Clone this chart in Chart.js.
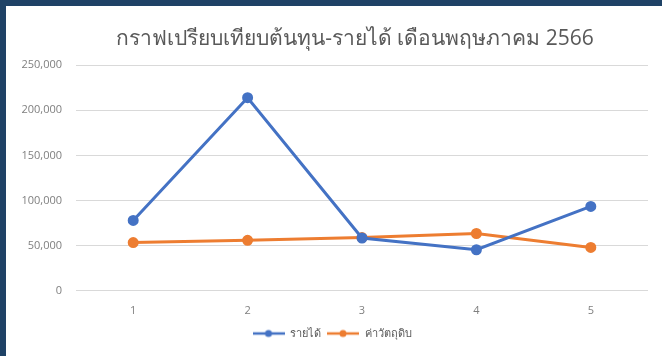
<!DOCTYPE html>
<html>
<head>
<meta charset="utf-8">
<script src="https://cdn.jsdelivr.net/npm/chart.js@4"></script>
<style>
  body { margin: 0; background: #ffffff; }
  #frame {
    position: absolute; left: 0; top: 0;
    width: 662px; height: 356px;
    box-sizing: border-box;
    border-left: 6px solid #1f4266;
    border-top: 6px solid #1f4266;
    background: #ffffff;
  }
  #wrap { position: absolute; left: 6px; top: 6px; width: 656px; height: 350px; }
</style>
</head>
<body>
<div id="frame"></div>
<div id="wrap"><canvas id="myChart"></canvas></div>
<script>
// ข้อมูลกราฟ
const categories = ['1', '2', '3', '4', '5'];
const revenue = [78000, 214000, 58500, 45500, 93500];     // รายได้
const materials = [53500, 56000, 59000, 63500, 48000];    // ค่าวัตถุดิบ
const yTicks = [0, 50000, 100000, 150000, 200000, 250000];

// สัญลักษณ์ legend แบบเส้น + จุด
function legendIcon(color) {
    const c = document.createElement('canvas');
    c.width = 32; c.height = 10;
    const g = c.getContext('2d');
    g.strokeStyle = color;
    g.lineWidth = 2.5;
    g.beginPath(); g.moveTo(0, 5); g.lineTo(32, 5); g.stroke();
    g.fillStyle = color;
    g.beginPath(); g.arc(16, 5, 3.5, 0, Math.PI * 2); g.fill();
    return c;
}

// เลื่อนชื่อกราฟไปทางขวาเล็กน้อย
const titleShift = {
    id: 'titleShift',
    afterLayout: function (chart) {
        if (chart.titleBlock) chart.titleBlock.left += 46;
    }
};

const font = "'Open Sans', 'Noto Sans', sans-serif";

const data = {
    labels: categories,
    datasets: [{
        label: 'รายได้',
        data: revenue,
        borderColor: '#4472C4',
        backgroundColor: '#4472C4',
        borderWidth: 3,
        pointRadius: 4,
        tension: 0
    }, {
        label: 'ค่าวัตถุดิบ',
        data: materials,
        borderColor: '#ED7D31',
        backgroundColor: '#ED7D31',
        borderWidth: 3,
        pointRadius: 4,
        tension: 0
    }]
};

const config = {
    type: 'line',
    data: data,
    plugins: [titleShift],
    options: {
        responsive: true,
        maintainAspectRatio: false,
        animation: false,
        layout: { padding: { left: 10, right: 14, top: 20, bottom: 7 } },
        plugins: {
            title: {
                display: true,
                text: 'กราฟเปรียบเทียบต้นทุน-รายได้ เดือนพฤษภาคม 2566',
                color: '#595959',
                font: { family: font, size: 21, weight: 'normal' },
                padding: { top: 0, bottom: 14 }
            },
            legend: {
                position: 'bottom',
                labels: {
                    color: '#595959',
                    font: { family: font, size: 11 },
                    usePointStyle: true,
                    pointStyleWidth: 32,
                    boxWidth: 32,
                    padding: 6,
                    generateLabels: function (chart) {
                        return chart.data.datasets.map(function (ds, i) {
                            return {
                                text: ds.label,
                                fontColor: '#595959',
                                pointStyle: legendIcon(ds.borderColor),
                                datasetIndex: i,
                                lineWidth: 0,
                                strokeStyle: 'transparent',
                                fillStyle: ds.borderColor
                            };
                        });
                    }
                }
            },
            tooltip: { enabled: false }
        },
        scales: {
            x: {
                offset: true,
                grid: { display: false },
                border: { display: false },
                ticks: { color: '#7f7f7f', font: { family: font, size: 11 }, padding: 5 }
            },
            y: {
                min: 0,
                max: 250000,
                grid: { color: '#d9d9d9', lineWidth: 1, drawTicks: false },
                border: { display: false },
                afterBuildTicks: function (axis) {
                    axis.ticks = yTicks.map(function (v) { return { value: v }; });
                },
                afterFit: function (axis) { axis.width = 60; },
                ticks: {
                    color: '#7f7f7f',
                    font: { family: font, size: 11 },
                    padding: 14,
                    callback: function (v) { return v.toLocaleString('en-US'); }
                }
            }
        }
    }
};

// วาดกราฟ
const ctx = document.getElementById('myChart').getContext('2d');
new Chart(ctx, config);
</script>
</body>
</html>
